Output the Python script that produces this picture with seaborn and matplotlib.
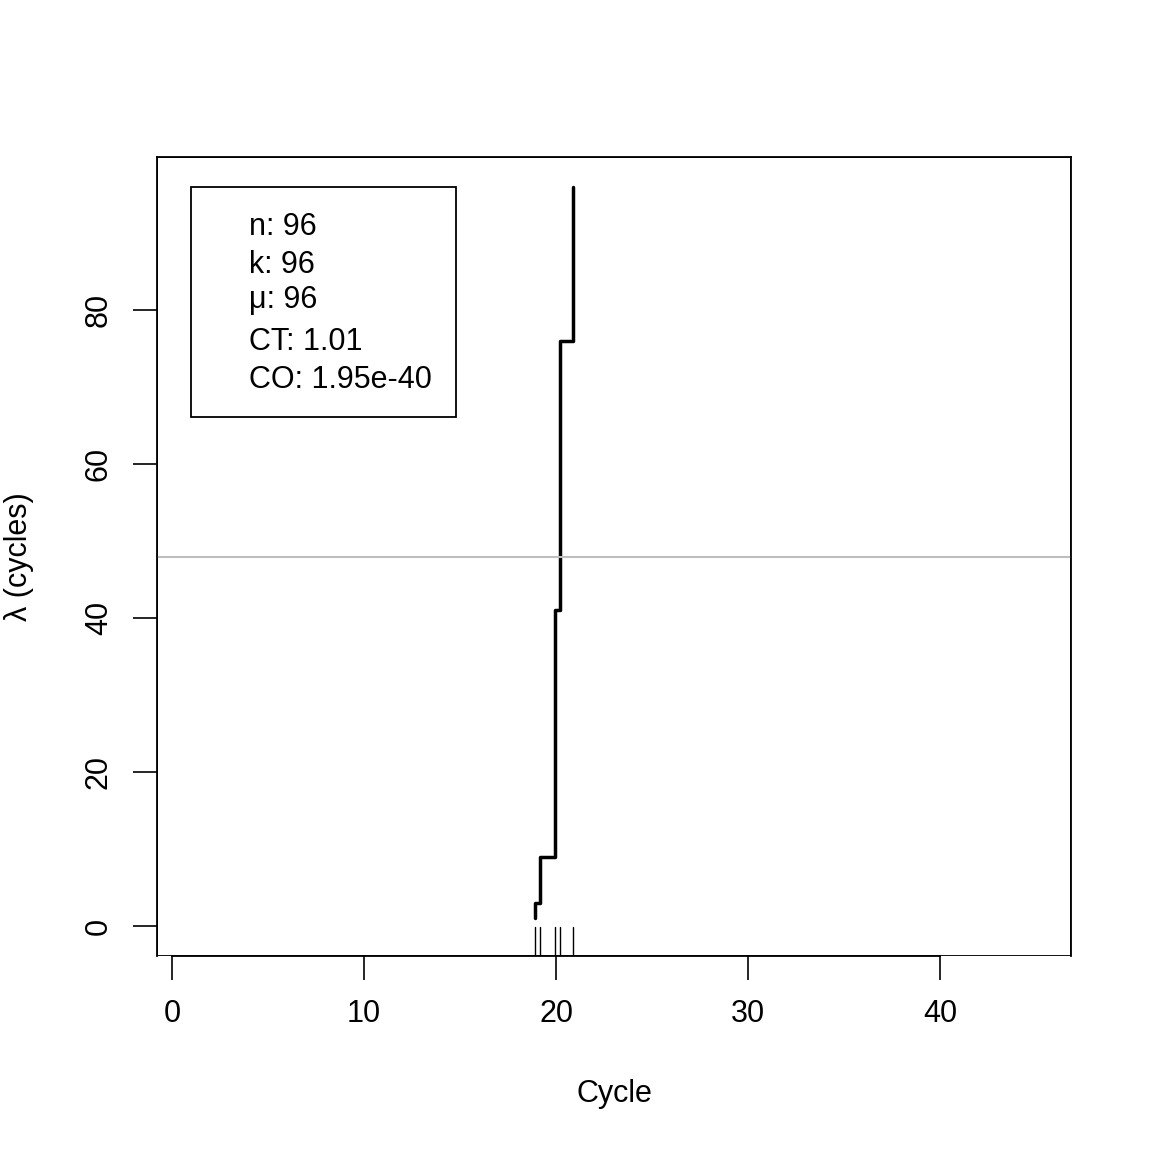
import matplotlib
matplotlib.use("Agg")
import matplotlib.pyplot as plt
import seaborn as sns
from matplotlib.patches import Rectangle

sns.set_style("white")
plt.rcParams['font.family'] = ['Liberation Sans', 'DejaVu Sans']
plt.rcParams['text.color'] = 'black'
plt.rcParams['axes.labelcolor'] = 'black'
plt.rcParams['xtick.color'] = 'black'
plt.rcParams['ytick.color'] = 'black'

# step data
cycles = [18.9, 19.18, 19.95, 20.19, 20.9, 20.9]
lam = [1, 3, 9, 41, 76, 96]
rug = [18.9, 19.18, 19.95, 20.19, 20.9]
info = ["n: 96", "k: 96", "\u03bc: 96", "CT: 1.01", "CO: 1.95e-40"]
hline_y = 48

fig = plt.figure(figsize=(11.52, 11.52), dpi=100)
ax = fig.add_axes([157/1152, 196/1152, 914/1152, 799/1152])

ax.plot(cycles, lam, drawstyle='steps-pre', color='black', lw=2.5)
ax.axhline(hline_y, color='#bebebe', lw=1.5)
for r in rug:
    ax.plot([r, r], [-3.9, -0.1], color='black', lw=1)

ax.set_xlim(-0.78, 46.8)
ax.set_ylim(-3.9, 99.9)
ax.set_xticks([0, 10, 20, 30, 40])
ax.set_yticks([0, 20, 40, 60, 80])
ax.tick_params(axis='both', labelsize=22, length=17, width=1.2, direction='out',
               bottom=True, left=True, pad=14)
for lbl in ax.get_yticklabels():
    lbl.set_rotation(90)
    lbl.set_va('center')
for s in ax.spines.values():
    s.set_color('black')
    s.set_linewidth(1.3)
ax.spines['bottom'].set_bounds(0, 40)
ax.set_xlabel("Cycle", fontsize=22, labelpad=36)
ax.set_ylabel("\u03bb (cycles)", fontsize=22, labelpad=36)

ax.add_patch(Rectangle((0, 0), 1, 1, transform=ax.transAxes, fill=False, lw=1.3, ec='black'))

# info box
bx0, bx1 = (191-157)/914, (456-157)/914
by0, by1 = (956-417)/799, (956-187)/799
ax.add_patch(Rectangle((bx0, by0), bx1-bx0, by1-by0, transform=ax.transAxes,
                       fill=False, lw=1.3, ec='black'))
for t, yp in zip(info, [227, 265, 300, 342, 380]):
    ax.text((249-157)/914, (956-yp)/799, t, transform=ax.transAxes,
            fontsize=22, va='center', ha='left')

fig.savefig("out.png", dpi=100)
